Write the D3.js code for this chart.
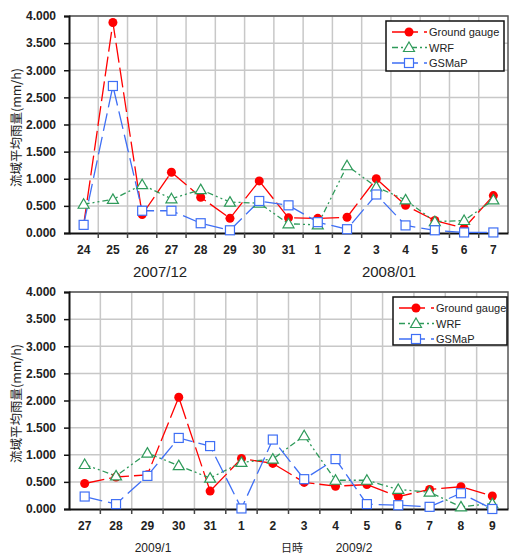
<!DOCTYPE html>
<html>
<head>
<meta charset="utf-8">
<script src="https://cdn.jsdelivr.net/npm/d3@7"></script>
<style>
  body { margin: 0; background: #fff; }
  svg text { font-family: "Liberation Sans", Arial, sans-serif; fill: #222; }
</style>
</head>
<body>
<svg id="chart" width="509" height="554"></svg>
<script>
// ---- data ----
const days1 = ["24", "25", "26", "27", "28", "29", "30", "31", "1", "2", "3", "4", "5", "6", "7"];
const gauge1 = [0.15, 3.88, 0.34, 1.12, 0.66, 0.27, 0.96, 0.28, 0.27, 0.29, 1.00, 0.51, 0.23, 0.09, 0.69];
const wrf1 = [0.53, 0.62, 0.89, 0.63, 0.80, 0.57, 0.55, 0.17, 0.15, 1.24, 0.85, 0.61, 0.21, 0.23, 0.61];
const gsmap1 = [0.15, 2.71, 0.41, 0.41, 0.18, 0.05, 0.59, 0.51, 0.20, 0.07, 0.71, 0.14, 0.05, 0.01, 0.01];

const days2 = ["27", "28", "29", "30", "31", "1", "2", "3", "4", "5", "6", "7", "8", "9"];
const gauge2 = [0.47, 0.59, 0.63, 2.06, 0.33, 0.93, 0.84, 0.49, 0.42, 0.45, 0.23, 0.36, 0.41, 0.24];
const wrf2 = [0.82, 0.61, 1.03, 0.80, 0.57, 0.86, 0.92, 1.35, 0.53, 0.53, 0.36, 0.31, 0.04, 0.10];
const gsmap2 = [0.23, 0.09, 0.61, 1.31, 1.16, 0.01, 1.28, 0.55, 0.92, 0.09, 0.07, 0.04, 0.29, 0.00];

const yTicks = [0, 0.5, 1, 1.5, 2, 2.5, 3, 3.5, 4];
const seriesNames = ["Ground gauge", "WRF", "GSMaP"];
const yTitle = "流域平均雨量(mm/h)";

const styles = {
  "Ground gauge": { color: "#ff0000", dash: "20,5", marker: "circle" },
  "WRF": { color: "#2e9a5a", dash: "6,3,2,3,2,3", marker: "triangle" },
  "GSMaP": { color: "#3f6ff5", dash: "18,6", marker: "square" }
};

const svg = d3.select("#chart");

function drawChart(opt) {
  const { days, series, top, bottom, left, right } = opt;
  const g = svg.append("g");

  const x = d3.scaleBand()
    .domain(days.map((d, i) => i))
    .range([left, right]);

  const y = d3.scaleLinear()
    .domain([0, 4])
    .range([bottom, top]);

  // grid
  g.append("g")
    .selectAll("line")
    .data(yTicks.slice(1))
    .enter()
    .append("line")
    .attr("x1", left).attr("x2", right)
    .attr("y1", d => y(d)).attr("y2", d => y(d))
    .attr("stroke", "#c8c8c8").attr("stroke-width", 1.5);

  g.append("g")
    .selectAll("line")
    .data(days.slice(1))
    .enter()
    .append("line")
    .attr("x1", (d, i) => x(i + 1)).attr("x2", (d, i) => x(i + 1))
    .attr("y1", top).attr("y2", bottom)
    .attr("stroke", "#c8c8c8").attr("stroke-width", 1.5);

  // frame top / right
  g.append("path")
    .attr("d", `M${left},${top}H${right}V${bottom}`)
    .attr("fill", "none").attr("stroke", "#555").attr("stroke-width", 1.5);

  // y axis
  const yAxis = g.append("g")
    .attr("transform", `translate(${left},0)`)
    .call(d3.axisLeft(y).tickValues(yTicks).tickFormat(d3.format(".3f")).tickSize(5).tickPadding(8));
  yAxis.select(".domain").attr("stroke", "#111").attr("stroke-width", 2);
  yAxis.selectAll(".tick line").attr("stroke", "#111").attr("stroke-width", 1.5);
  yAxis.selectAll("text").style("font-size", "12px").style("font-weight", "bold").attr("fill", "#222");

  // x axis: ticks at category boundaries, labels centred
  const xAxis = g.append("g")
    .attr("transform", `translate(0,${bottom})`)
    .call(d3.axisBottom(x).tickSize(0).tickPadding(12).tickFormat(i => days[i]));
  xAxis.select(".domain").attr("stroke", "#111").attr("stroke-width", 2);
  xAxis.selectAll("text").style("font-size", "12px").style("font-weight", "bold").attr("fill", "#222");
  g.append("g")
    .selectAll("line")
    .data(days.slice(1))
    .enter()
    .append("line")
    .attr("x1", (d, i) => x(i + 1)).attr("x2", (d, i) => x(i + 1))
    .attr("y1", bottom).attr("y2", bottom + 5)
    .attr("stroke", "#444").attr("stroke-width", 1.5);

  const cx = i => x(i) + x.bandwidth() / 2;

  // series lines and markers
  series.forEach(s => {
    const st = styles[s.name];
    const line = d3.line().x((d, i) => cx(i)).y(d => y(d));
    g.append("path")
      .datum(s.values)
      .attr("d", line)
      .attr("fill", "none")
      .attr("stroke", st.color)
      .attr("stroke-width", 1.3)
      .attr("stroke-dasharray", st.dash);
  });

  series.forEach(s => {
    const st = styles[s.name];
    const mg = g.append("g");
    s.values.forEach((v, i) => drawMarker(mg, st, cx(i), y(v)));
  });

  // legend
  const lg = g.append("g");
  lg.append("rect")
    .attr("x", opt.legend.x).attr("y", opt.legend.y)
    .attr("width", opt.legend.w).attr("height", opt.legend.h)
    .attr("fill", "#fff").attr("stroke", "#111").attr("stroke-width", 1.5);
  series.forEach((s, k) => {
    const st = styles[s.name];
    const ly = opt.legend.y + 11 + k * 15.5;
    const lx = opt.legend.x;
    lg.append("line")
      .attr("x1", lx + 6).attr("x2", lx + 41)
      .attr("y1", ly).attr("y2", ly)
      .attr("stroke", st.color).attr("stroke-width", 1.3)
      .attr("stroke-dasharray", s.name === "WRF" ? "6,3,2,3,2,3" : "26,6,4,20");
    drawMarker(lg, st, lx + 23, ly);
    lg.append("text")
      .attr("x", lx + 43).attr("y", ly + 4)
      .style("font-size", "11px")
      .text(s.name);
  });

  // y title
  svg.append("text")
    .attr("transform", `translate(${opt.titleX},${(top + bottom) / 2 + 3}) rotate(-90)`)
    .attr("text-anchor", "middle")
    .style("font-family", "'Noto Sans CJK JP', sans-serif")
    .style("font-size", "12.5px")
    .text(yTitle);
}

function drawMarker(g, st, px, py) {
  if (st.marker === "circle") {
    g.append("circle")
      .attr("cx", px).attr("cy", py).attr("r", 4.5)
      .attr("fill", st.color);
  } else if (st.marker === "triangle") {
    g.append("path")
      .attr("d", `M${px},${py - 5.5}L${px + 5.5},${py + 4}L${px - 5.5},${py + 4}Z`)
      .attr("fill", "#fff").attr("stroke", st.color).attr("stroke-width", 1.2);
  } else {
    g.append("rect")
      .attr("x", px - 4.5).attr("y", py - 4.5).attr("width", 9).attr("height", 9)
      .attr("fill", "#fff").attr("stroke", st.color).attr("stroke-width", 1.2);
  }
}

drawChart({
  days: days1,
  series: [
    { name: seriesNames[0], values: gauge1 },
    { name: seriesNames[1], values: wrf1 },
    { name: seriesNames[2], values: gsmap1 }
  ],
  top: 16, bottom: 233, left: 69, right: 508,
  legend: { x: 386, y: 21, w: 118, h: 50 },
  titleX: 21
});

drawChart({
  days: days2,
  series: [
    { name: seriesNames[0], values: gauge2 },
    { name: seriesNames[1], values: wrf2 },
    { name: seriesNames[2], values: gsmap2 }
  ],
  top: 292, bottom: 509, left: 69, right: 508,
  legend: { x: 393, y: 297, w: 114, h: 48 },
  titleX: 21
});

// date labels under the axes
svg.append("text").attr("x", 160).attr("y", 277).attr("text-anchor", "middle")
  .style("font-size", "15px").text("2007/12");
svg.append("text").attr("x", 389).attr("y", 277).attr("text-anchor", "middle")
  .style("font-size", "15px").text("2008/01");
svg.append("text").attr("x", 153).attr("y", 552).attr("text-anchor", "middle")
  .style("font-size", "12px").text("2009/1");
svg.append("text").attr("x", 292).attr("y", 552).attr("text-anchor", "middle")
  .style("font-family", "'Noto Sans CJK JP', sans-serif")
  .style("font-size", "11px").text("日時");
svg.append("text").attr("x", 354).attr("y", 552).attr("text-anchor", "middle")
  .style("font-size", "12px").text("2009/2");
</script>
</body>
</html>
